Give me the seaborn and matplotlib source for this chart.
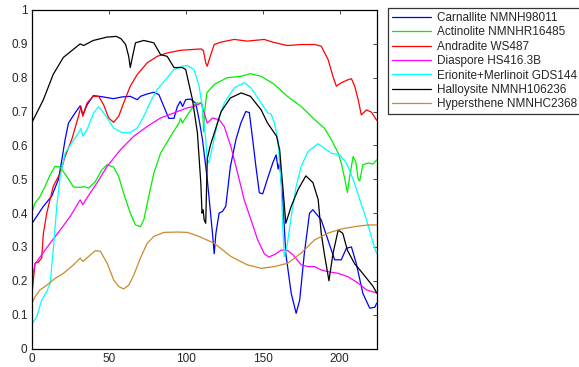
import pandas as pd
import numpy as np
import matplotlib
matplotlib.use("Agg")
import matplotlib.pyplot as plt
import seaborn as sns

# spectra (band index vs reflectance)
carnallite_x = [0, 7.6, 13, 17.4, 19.6, 21.7, 23.9, 28.2, 31.5, 33.2, 36, 40, 46.7, 53, 58.5, 64, 68.5, 70.7, 75, 79.3,
                 82.6, 85.8, 89, 92.4, 94.6, 96.5, 98, 100, 103, 106.5, 108.7, 110.9, 114, 117.4, 118.5, 119.6, 121.7,
                 123.9, 126, 129, 132.6, 135.8, 139, 141.3, 143.5, 145.6, 147.8, 150, 153, 156.5, 158.7, 160, 161, 163,
                 165, 168.5, 171.7, 174, 177, 180.4, 182.6, 188, 192.4, 196.7, 201, 204.3, 207.6, 210.8, 215, 219.5,
                 222.8, 224]
carnallite_y = [0.368, 0.42, 0.45, 0.50, 0.558, 0.617, 0.666, 0.696, 0.717, 0.69, 0.72, 0.747, 0.743, 0.738, 0.743,
                0.745, 0.735, 0.745, 0.752, 0.757, 0.75, 0.715, 0.68, 0.68, 0.715, 0.73, 0.715, 0.735, 0.737, 0.725,
                0.676, 0.617, 0.50, 0.34, 0.28, 0.34, 0.40, 0.405, 0.42, 0.537, 0.617, 0.666, 0.70, 0.697, 0.617, 0.537,
                0.46, 0.457, 0.50, 0.548, 0.572, 0.53, 0.55, 0.44, 0.28, 0.163, 0.104, 0.143, 0.28, 0.40, 0.41, 0.38,
                0.32, 0.262, 0.262, 0.296, 0.30, 0.25, 0.163, 0.119, 0.122, 0.134]

actinolite_x = [0, 2.2, 5.4, 8.7, 12, 15.2, 18.5, 22.8, 27.1, 31.5, 33.7, 37, 41.3, 45.6, 49, 53.2, 56.5, 59.7, 64,
                67.4, 70.6, 72.8, 76, 79.3, 83.7, 90.2, 95.6, 96.7, 97.8, 102, 106.5, 109.8, 111, 111.6, 112.3, 113.7,
                118.5, 127, 135.8, 142, 149, 157.6, 166, 175, 183.7, 190, 194.6, 199, 201, 203.3, 205, 206.5, 208.7,
                210.5, 212, 213, 215, 218.5, 221.7, 224]
actinolite_y = [0.40, 0.43, 0.449, 0.479, 0.513, 0.538, 0.536, 0.508, 0.477, 0.476, 0.478, 0.474, 0.493, 0.528, 0.543,
                0.536, 0.508, 0.459, 0.40, 0.365, 0.36, 0.38, 0.449, 0.518, 0.577, 0.627, 0.666, 0.68, 0.666, 0.696,
                0.725, 0.725, 0.72, 0.64, 0.70, 0.755, 0.78, 0.80, 0.804, 0.812, 0.804, 0.78, 0.745, 0.715, 0.676,
                0.651, 0.617, 0.577, 0.548, 0.50, 0.461, 0.51, 0.567, 0.55, 0.50, 0.495, 0.543, 0.548, 0.545, 0.557]

andradite_x = [0, 2.2, 4.3, 6.5, 7.6, 9.8, 14, 18.5, 21.7, 26, 30.4, 32, 33.2, 35.9, 40, 43.5, 46.7, 50, 53.2, 56.5,
               59.7, 64, 68.5, 75, 81.5, 88, 96.7, 110, 111.5, 113, 114, 115.7, 118.5, 122.8, 131.5, 140, 151, 156.5,
               166, 175, 183.7, 188, 192.4, 195.6, 197.8, 201, 205.4, 207.6, 209.7, 212, 214, 217.4, 220.6, 224]
andradite_y = [0.153, 0.252, 0.255, 0.267, 0.34, 0.40, 0.479, 0.518, 0.567, 0.617, 0.686, 0.715, 0.686, 0.725, 0.745,
               0.745, 0.72, 0.681, 0.668, 0.686, 0.725, 0.775, 0.809, 0.844, 0.863, 0.873, 0.881, 0.885, 0.88, 0.844,
               0.834, 0.86, 0.898, 0.905, 0.913, 0.908, 0.913, 0.905, 0.895, 0.898, 0.898, 0.893, 0.854, 0.804, 0.775,
               0.785, 0.794, 0.797, 0.775, 0.735, 0.69, 0.705, 0.698, 0.674]

diaspore_x = [0, 2.2, 5.4, 12, 18.5, 25, 31.5, 33.2, 35.9, 42.4, 49, 57.6, 66.3, 75, 83.7, 92.4, 101, 105.4, 110, 112,
              114, 117.4, 121.7, 125, 129.3, 133.7, 138, 142.4, 146.7, 151, 154, 158.7, 162, 166, 169.6, 175, 179.4,
              183.7, 188, 192.4, 199, 205.4, 212, 217.4, 224]
diaspore_y = [0.198, 0.25, 0.27, 0.311, 0.35, 0.39, 0.439, 0.425, 0.445, 0.489, 0.538, 0.587, 0.627, 0.656, 0.681,
              0.696, 0.711, 0.715, 0.725, 0.696, 0.666, 0.681, 0.676, 0.656, 0.597, 0.518, 0.439, 0.38, 0.321, 0.28,
              0.27, 0.28, 0.291, 0.29, 0.277, 0.247, 0.242, 0.242, 0.232, 0.227, 0.222, 0.212, 0.193, 0.173, 0.164]

erionite_x = [0, 3.3, 6.5, 9.8, 12, 14, 16.3, 18.5, 21.7, 26, 30.4, 32, 33.2, 36, 40.2, 43.5, 47.8, 53.2, 58.6, 64,
              68.5, 72.8, 77.2, 81.5, 88, 92.4, 97.8, 101, 105.4, 108.7, 111, 113, 114, 115, 117.4, 120.6, 125, 131.5,
              138, 142.4, 149, 153.3, 155.5, 157.6, 159.8, 162, 163, 164, 165.7, 168.5, 171.7, 175, 179.4, 186,
              190.3, 194.6, 200, 204.3, 208.7, 213, 217.4, 221.7, 224]
erionite_y = [0.07, 0.094, 0.143, 0.168, 0.192, 0.291, 0.42, 0.508, 0.577, 0.607, 0.637, 0.65, 0.627, 0.647, 0.696,
              0.714, 0.69, 0.651, 0.638, 0.638, 0.651, 0.686, 0.73, 0.765, 0.80, 0.824, 0.834, 0.836, 0.824, 0.775,
              0.706, 0.617, 0.558, 0.548, 0.597, 0.666, 0.725, 0.77, 0.785, 0.77, 0.725, 0.696, 0.692, 0.666, 0.617,
              0.489, 0.36, 0.272, 0.30, 0.39, 0.479, 0.538, 0.582, 0.605, 0.59, 0.577, 0.572, 0.548, 0.50, 0.44,
              0.38, 0.311, 0.28]

halloysite_x = [0, 7.6, 14, 20.6, 31.5, 33.7, 40, 49, 55, 58, 61, 63, 64, 65.5, 67.4, 72.8, 79.3, 83.7, 88, 92.4, 97.8,
                100, 104.4, 107.6, 109.8, 110.6, 111.3, 112, 113, 114, 116, 123, 129, 136, 142, 149, 153, 159, 161,
                163, 165, 168.5, 173, 178, 182.6, 186, 188, 190, 193, 195.6, 199, 202, 205, 209.7, 214, 217, 221.7,
                224]
halloysite_y = [0.666, 0.735, 0.81, 0.86, 0.90, 0.895, 0.91, 0.92, 0.922, 0.915, 0.898, 0.863, 0.83, 0.863, 0.903,
                0.91, 0.903, 0.868, 0.863, 0.83, 0.83, 0.824, 0.735, 0.637, 0.49, 0.40, 0.41, 0.38, 0.37, 0.56, 0.60,
                0.70, 0.74, 0.755, 0.745, 0.705, 0.667, 0.627, 0.587, 0.48, 0.37, 0.42, 0.47, 0.51, 0.49, 0.44, 0.34,
                0.28, 0.20, 0.28, 0.35, 0.34, 0.29, 0.25, 0.227, 0.21, 0.183, 0.164]

hypersthene_x = [0, 2.2, 5.4, 9.8, 15.2, 20.6, 27.1, 31.5, 33.2, 37, 41.3, 44.6, 49, 53.2, 56.5, 59.7, 63, 66.3, 70.6,
                 75, 79.3, 85.8, 94.5, 101, 107.6, 118.5, 129.3, 140, 149, 157.6, 166.3, 175, 183.7, 192.4, 201,
                 209.7, 218.5, 224]
hypersthene_y = [0.132, 0.153, 0.173, 0.187, 0.207, 0.222, 0.247, 0.267, 0.257, 0.272, 0.289, 0.287, 0.252, 0.203,
                 0.183, 0.176, 0.187, 0.217, 0.267, 0.311, 0.331, 0.343, 0.344, 0.343, 0.333, 0.311, 0.272, 0.247,
                 0.237, 0.242, 0.252, 0.282, 0.321, 0.341, 0.353, 0.36, 0.365, 0.365]

labels = ["Carnallite NMNH98011", "Actinolite NMNHR16485", "Andradite WS487", "Diaspore HS416.3B",
          "Erionite+Merlinoit GDS144", "Halloysite NMNH106236", "Hypersthene NMNHC2368"]
colors = ["#0000ff", "#00ee00", "#ff0000", "#ff00ff", "#00ffff", "#000000", "#cc8a2a"]

series = [(carnallite_x, carnallite_y), (actinolite_x, actinolite_y), (andradite_x, andradite_y),
          (diaspore_x, diaspore_y), (erionite_x, erionite_y), (halloysite_x, halloysite_y),
          (hypersthene_x, hypersthene_y)]

sns.set_style("white")
plt.rcParams['font.family'] = ['Liberation Sans', 'DejaVu Sans']

fig = plt.figure(figsize=(5.79, 3.67), dpi=100)
ax = fig.add_axes([0.0547, 0.0504, 0.5959, 0.9224])

for (xs, ys), lab, c in zip(series, labels, colors):
    sns.lineplot(x=xs, y=ys, ax=ax, color=c, label=lab, linewidth=0.9, sort=False, estimator=None)

ax.set_xlim(0, 224)
ax.set_ylim(0, 1)
ax.set_xticks([0, 50, 100, 150, 200])
ax.set_yticks(np.arange(0, 1.01, 0.1))
ax.set_yticklabels(["0", "0.1", "0.2", "0.3", "0.4", "0.5", "0.6", "0.7", "0.8", "0.9", "1"])
ax.tick_params(direction="in", length=3, width=0.6, labelsize=8.5, top=True, right=True, pad=3)
for s in ax.spines.values():
    s.set_color("black")
    s.set_linewidth(0.9)

leg = ax.legend(loc="upper left", bbox_to_anchor=(388 / 579, 1 - 8 / 367), bbox_transform=fig.transFigure,
                fontsize=8.5, frameon=True, fancybox=False, handlelength=3.3, labelspacing=0.2,
                borderpad=0.35, handletextpad=0.5, borderaxespad=0)
leg.get_frame().set_edgecolor("black")
leg.get_frame().set_linewidth(0.9)

fig.savefig("out.png", dpi=100)
